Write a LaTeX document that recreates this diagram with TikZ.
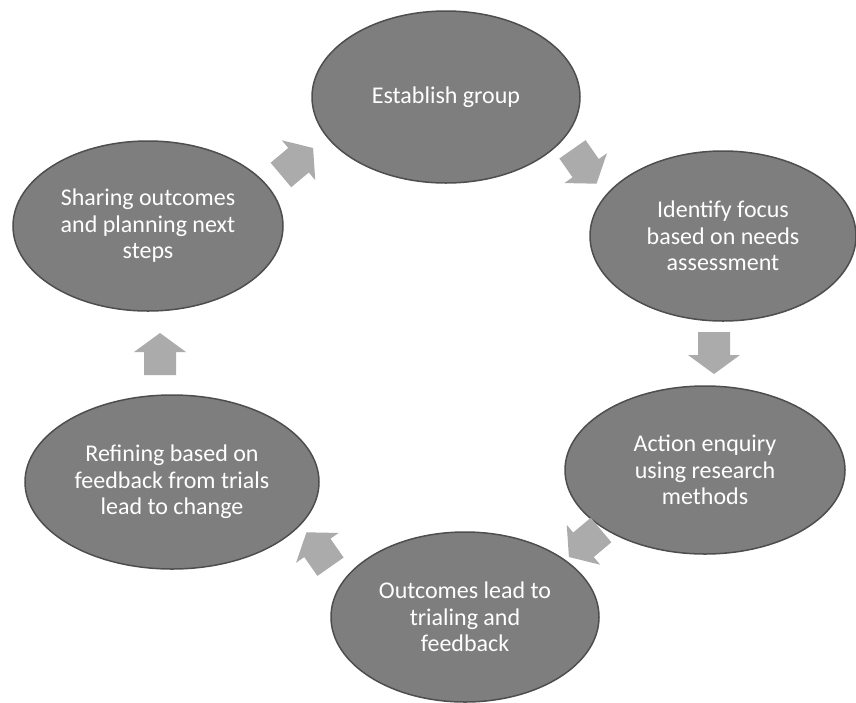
\documentclass[tikz,border=0pt]{standalone}
\usepackage{fontspec}
\setmainfont{Carlito}
\usetikzlibrary{shapes.geometric,calc}
\definecolor{ellfill}{HTML}{7E7E7E}
\definecolor{elledge}{HTML}{4E4E4E}
\definecolor{arrfill}{HTML}{ABABAB}
\tikzset{
  stage/.style={ellipse, draw=elledge, line width=1.5pt, fill=ellfill,
    text=white, font=\fontsize{24}{26.5}\selectfont, align=center, inner sep=0pt},
  cyclearrow/.pic={\fill[arrfill] (-21,-16) -- (2,-16) -- (2,-26) -- (21,0)
    -- (2,26) -- (2,16) -- (-21,16) -- cycle;}
}
\begin{document}
\begin{tikzpicture}[x=1pt,y=-1pt]
\useasboundingbox (0,0) rectangle (856,702);
\node[stage, minimum width=268pt, minimum height=172pt] (est) at (446,97) {Establish group};
\node[stage, minimum width=266pt, minimum height=170pt] (ide) at (723,236) {Identify focus\\based on needs\\assessment};
\node[stage, minimum width=280pt, minimum height=168pt] (act) at (705,470) {Action enquiry\\using research\\methods};
\node[stage, minimum width=268pt, minimum height=170pt] (out) at (465,617) {Outcomes lead to\\trialing and\\feedback};
\node[stage, minimum width=294pt, minimum height=174pt] (ref) at (172,482) {Refining based on\\feedback from trials\\lead to change};
\node[stage, minimum width=270pt, minimum height=170pt] (sha) at (148,226) {Sharing outcomes\\and planning next\\steps};
\pic[rotate=40] at ($(sha)!0.5!(est)$) {cyclearrow};
\pic[rotate=-55] at ($(est)!0.5!(ide)$) {cyclearrow};
\pic[rotate=-90] at ($(ide)!0.5!(act)$) {cyclearrow};
\pic[rotate=-140] at ($(act)!0.5!(out)$) {cyclearrow};
\pic[rotate=125] at ($(out)!0.5!(ref)$) {cyclearrow};
\pic[rotate=90] at ($(ref)!0.5!(sha)$) {cyclearrow};
\end{tikzpicture}
\end{document}
